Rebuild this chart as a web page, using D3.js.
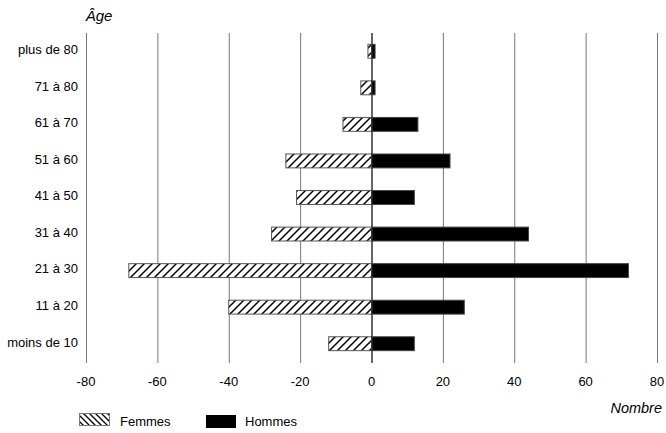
<!DOCTYPE html>
<html><head><meta charset="utf-8">
<script src="https://cdn.jsdelivr.net/npm/d3@7"></script>
<style>body{margin:0;background:#fff}svg{font-family:"Liberation Sans",Arial,sans-serif}</style>
</head><body><svg id="c" width="666" height="433"></svg>
<script>
const categories = ["plus de 80","71 à 80","61 à 70","51 à 60","41 à 50","31 à 40","21 à 30","11 à 20","moins de 10"];
const femmes = [-1,-3,-8,-24,-21,-28,-68,-40,-12];
const hommes = [1,1,13,22,12,44,72,26,12];
const ticks = [-80,-60,-40,-20,0,20,40,60,80];

const svg = d3.select("#c");
const x = d3.scaleLinear().domain([-80,80]).range([86,657]);
const y = d3.scaleBand().domain(categories).range([33,362]).paddingInner(0.62).paddingOuter(0.31);

const defs = svg.append("defs");
const p = defs.append("pattern").attr("id","hatch").attr("patternUnits","userSpaceOnUse").attr("width",8).attr("height",8);
p.append("rect").attr("width",8).attr("height",8).attr("fill","#fff");
p.append("path").attr("d","M-2,2 L2,-2 M0,8 L8,0 M6,10 L10,6").attr("stroke","#000").attr("stroke-width",1.5);
const p2 = defs.append("pattern").attr("id","hatch2").attr("patternUnits","userSpaceOnUse").attr("width",6).attr("height",6);
p2.append("rect").attr("width",6).attr("height",6).attr("fill","#fff");
p2.append("path").attr("d","M-2,4 L2,8 M0,0 L6,6 M4,-2 L8,2").attr("stroke","#000").attr("stroke-width",1.3);

// grid
svg.append("g").selectAll("line").data(ticks).join("line")
  .attr("x1",d=>x(d)+0.5).attr("x2",d=>x(d)+0.5).attr("y1",33).attr("y2",363)
  .attr("stroke",d=>d===0?"#333":"#777").attr("stroke-width",1);

// bars
svg.append("g").selectAll("rect").data(categories).join("rect")
  .attr("x",(d,i)=>x(femmes[i])).attr("width",(d,i)=>x(0)-x(femmes[i]))
  .attr("y",d=>y(d)).attr("height",y.bandwidth())
  .attr("fill","url(#hatch)").attr("stroke","#555").attr("stroke-width",1);
svg.append("g").selectAll("rect").data(categories).join("rect")
  .attr("x",x(0)).attr("width",(d,i)=>x(hommes[i])-x(0))
  .attr("y",d=>y(d)).attr("height",y.bandwidth())
  .attr("fill","#000").attr("stroke","#444").attr("stroke-width",1);

// zero line on top
svg.append("line").attr("x1",x(0)+0.5).attr("x2",x(0)+0.5).attr("y1",33).attr("y2",363).attr("stroke","#333");

// y labels
svg.append("g").selectAll("text").data(categories).join("text")
  .attr("x",78).attr("y",d=>y(d)+y.bandwidth()/2).attr("dy","0.22em")
  .attr("text-anchor","end").attr("font-size",13).attr("fill","#000").text(d=>d);

// x tick labels
svg.append("g").selectAll("text").data(ticks).join("text")
  .attr("x",d=>x(d)).attr("y",386)
  .attr("text-anchor","middle").attr("font-size",13).attr("fill","#000").text(d=>d);

// axis titles
svg.append("text").attr("x",99).attr("y",21).attr("text-anchor","middle")
  .attr("font-size",15).attr("font-style","italic").text("Âge");
svg.append("text").attr("x",662).attr("y",413).attr("text-anchor","end")
  .attr("font-size",14.5).attr("font-style","italic").text("Nombre");

// legend
svg.append("rect").attr("x",79.5).attr("y",413.5).attr("width",30).attr("height",12).attr("fill","url(#hatch2)").attr("stroke","#777");
svg.append("text").attr("x",120).attr("y",426).attr("font-size",13).text("Femmes");
svg.append("rect").attr("x",206).attr("y",415).attr("width",30).attr("height",13).attr("fill","#000");
svg.append("text").attr("x",245).attr("y",426).attr("font-size",13).text("Hommes");
</script></body></html>
